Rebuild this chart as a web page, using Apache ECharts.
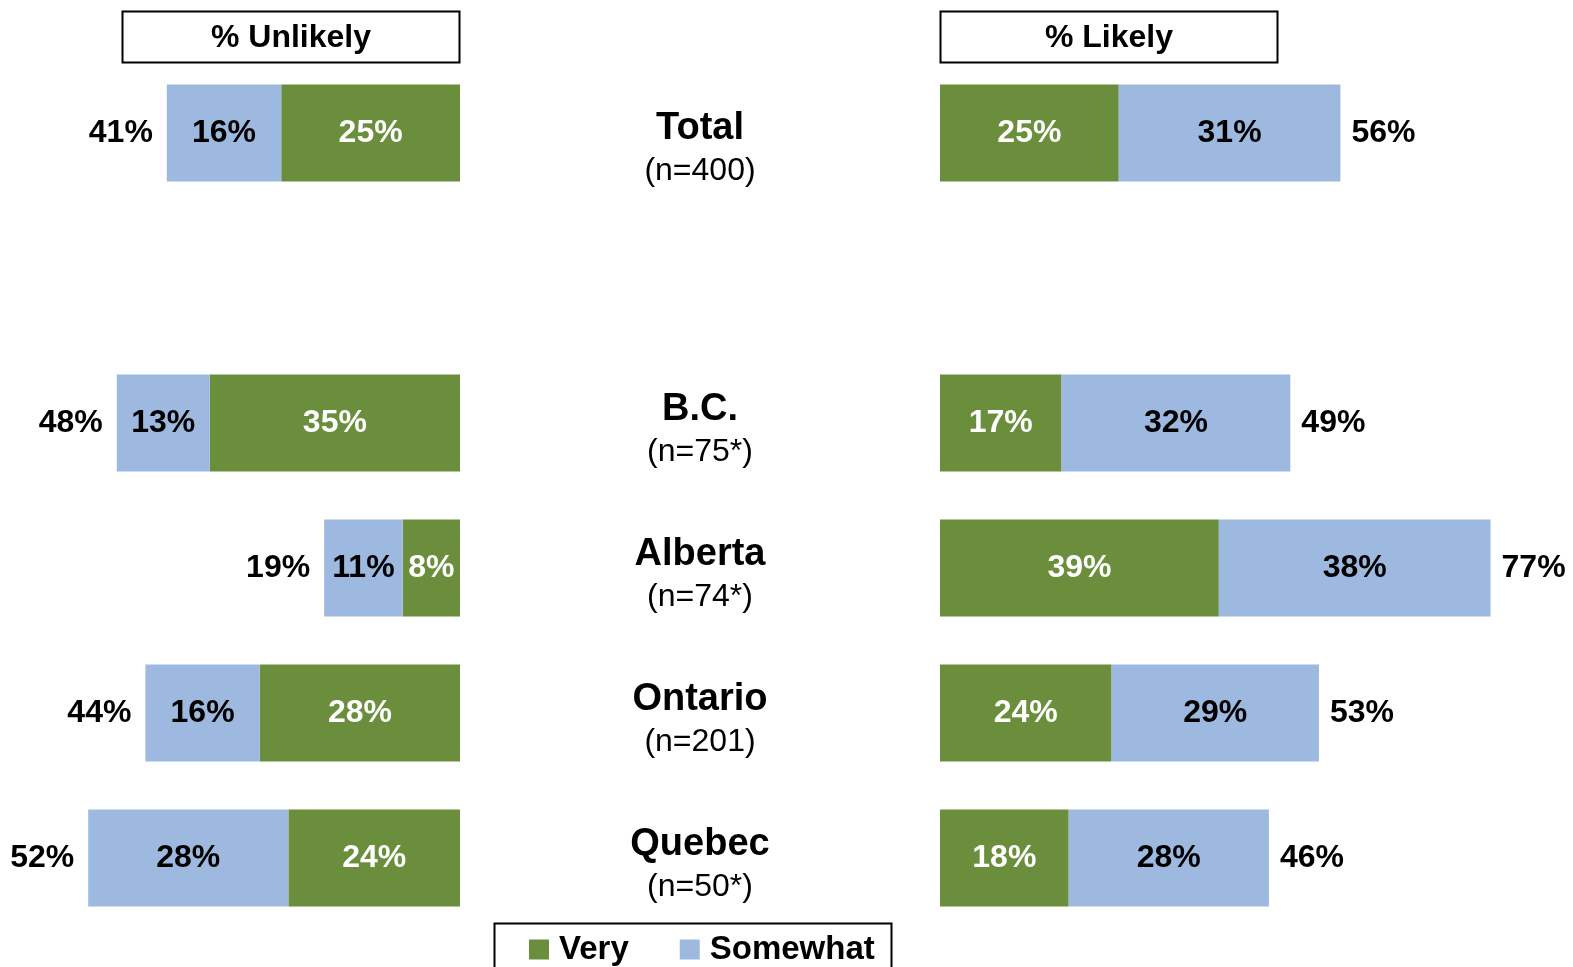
<!DOCTYPE html>
<html><head><meta charset="utf-8">
<script src="https://cdn.jsdelivr.net/npm/echarts@6/dist/echarts.min.js"></script>
<style>html,body{margin:0;padding:0;background:#fff}#c{width:1573px;height:967px}</style>
</head><body><div id="c"></div>
<script>
const categories = ['Total', '', 'B.C.', 'Alberta', 'Ontario', 'Quebec'];
const sampleSizes = ['(n=400)', '', '(n=75*)', '(n=74*)', '(n=201)', '(n=50*)'];
const unlikelyVery = [25, null, 35, 8, 28, 24];
const unlikelySomewhat = [16, null, 13, 11, 16, 28];
const unlikelyTotal = [41, null, 48, 19, 44, 52];
const likelyVery = [25, null, 17, 39, 24, 18];
const likelySomewhat = [31, null, 32, 38, 29, 28];
const likelyTotal = [56, null, 49, 77, 53, 46];

const GREEN = '#6a8e3b', BLUE = '#9db9df';
const FONT = 'Arial, "Liberation Sans", sans-serif';
const pct = p => (p.value == null ? '' : p.value + '%');
const lbl = (color, pos, dist) => ({show: true, position: pos, distance: dist || 5, formatter: pct,
  color: color, fontSize: 32, fontWeight: 'bold', fontFamily: FONT});

const chart = echarts.init(document.getElementById('c'), null, {renderer: 'canvas'});
const catAxisBase = {type: 'category', inverse: true, data: categories,
  axisLine: {show: false}, axisTick: {show: false}, splitLine: {show: false}};

chart.setOption({
  animation: false,
  grid: [
    {left: 31, right: 1113, top: 60.5, height: 870},
    {left: 940, right: 61, top: 60.5, height: 870}
  ],
  xAxis: [
    {type: 'value', gridIndex: 0, min: 0, max: 60, inverse: true, show: false},
    {type: 'value', gridIndex: 1, min: 0, max: 80, show: false}
  ],
  yAxis: [
    Object.assign({}, catAxisBase, {gridIndex: 0, axisLabel: {show: false}}),
    Object.assign({}, catAxisBase, {gridIndex: 1, position: 'left',
      data: categories.map((c, i) => ({value: c, textStyle: {padding: [i === 0 ? 34 : 16, 0, 0, 0], align: 'center'}})),
      axisLabel: {show: true, margin: 240, align: 'center', interval: 0,
        formatter: (v, i) => v ? '{b|' + v + '}\n{n|' + sampleSizes[i] + '}' : '',
        rich: {
          b: {fontSize: 38, fontWeight: 'bold', color: '#000', fontFamily: FONT, lineHeight: 43, align: 'center'},
          n: {fontSize: 32, color: '#000', fontFamily: FONT, lineHeight: 43, align: 'center'}
        }}})
  ],
  legend: {
    left: 524, top: 928, itemWidth: 20, itemHeight: 20, itemGap: 51, icon: 'rect',
    data: ['Very', 'Somewhat'], selectedMode: false,
    textStyle: {fontSize: 33, fontWeight: 'bold', color: '#000', fontFamily: FONT, padding: [0, 0, 0, 5]}
  },
  graphic: [
    {type: 'rect', shape: {x: 122.5, y: 11.5, width: 337, height: 51}, style: {fill: '#fff', stroke: '#000', lineWidth: 2}},
    {type: 'text', x: 291, y: 38, style: {text: '% Unlikely', fill: '#000', font: 'bold 32px ' + FONT, textAlign: 'center', textVerticalAlign: 'middle'}},
    {type: 'rect', shape: {x: 940.5, y: 11.5, width: 337, height: 51}, style: {fill: '#fff', stroke: '#000', lineWidth: 2}},
    {type: 'text', x: 1109, y: 38, style: {text: '% Likely', fill: '#000', font: 'bold 32px ' + FONT, textAlign: 'center', textVerticalAlign: 'middle'}},
    {type: 'rect', z: -1, shape: {x: 494.5, y: 923.5, width: 397, height: 60}, style: {fill: '#fff', stroke: '#000', lineWidth: 2}}
  ],
  series: [
    {name: 'Very', type: 'bar', xAxisIndex: 0, yAxisIndex: 0, stack: 'L', barWidth: 97, barGap: '-100%',
      data: unlikelyVery, itemStyle: {color: GREEN}, label: lbl('#fff', 'inside'), silent: true},
    {name: 'Somewhat', type: 'bar', xAxisIndex: 0, yAxisIndex: 0, stack: 'L', barWidth: 97, barGap: '-100%',
      data: unlikelySomewhat, itemStyle: {color: BLUE}, label: lbl('#000', 'inside'), silent: true},
    {name: 'TotalL', type: 'bar', xAxisIndex: 0, yAxisIndex: 0, barWidth: 97, barGap: '-100%',
      data: unlikelyTotal, itemStyle: {color: 'rgba(0,0,0,0)'}, label: lbl('#000', 'left', 14), silent: true},
    {name: 'Very', type: 'bar', xAxisIndex: 1, yAxisIndex: 1, stack: 'R', barWidth: 97, barGap: '-100%',
      data: likelyVery, itemStyle: {color: GREEN}, label: lbl('#fff', 'inside'), silent: true},
    {name: 'Somewhat', type: 'bar', xAxisIndex: 1, yAxisIndex: 1, stack: 'R', barWidth: 97, barGap: '-100%',
      data: likelySomewhat, itemStyle: {color: BLUE}, label: lbl('#000', 'inside'), silent: true},
    {name: 'TotalR', type: 'bar', xAxisIndex: 1, yAxisIndex: 1, barWidth: 97, barGap: '-100%',
      data: likelyTotal, itemStyle: {color: 'rgba(0,0,0,0)'}, label: lbl('#000', 'right', 11), silent: true}
  ]
});
</script></body></html>
